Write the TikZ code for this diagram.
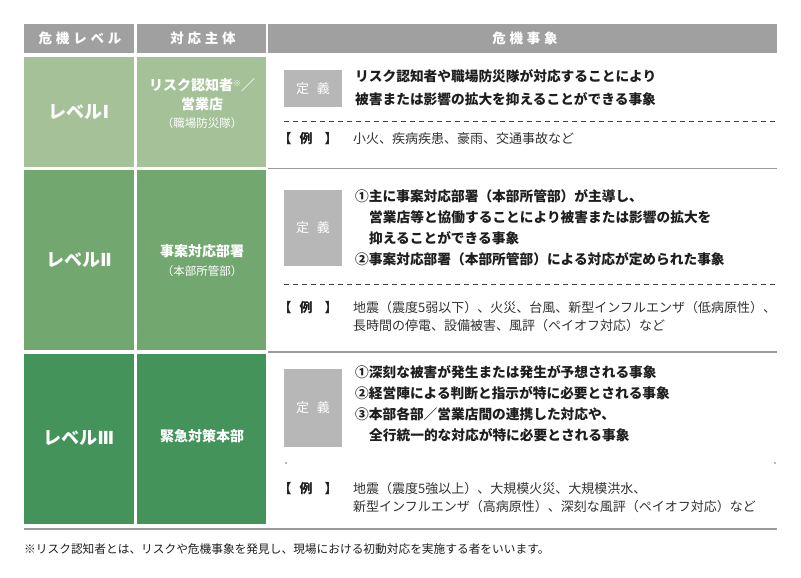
\documentclass[tikz,border=0pt]{standalone}
\usepackage{fontspec}
\setmainfont{Noto Sans CJK JP}
\newfontfamily\hdfont{Noto Sans CJK JP}[LetterSpace=28]
\newfontfamily\romfont{DejaVu Sans}
\definecolor{hdrgray}{RGB}{160,160,160}
\definecolor{lvone}{RGB}{164,193,152}
\definecolor{lvtwo}{RGB}{114,168,111}
\definecolor{lvthree}{RGB}{67,147,90}
\definecolor{defgray}{RGB}{183,183,183}
\definecolor{linegray}{RGB}{154,154,154}
\definecolor{txtdark}{RGB}{30,30,30}
\definecolor{txtex}{RGB}{50,50,50}
\newcommand{\rmn}[1]{{\romfont\bfseries #1}}
\begin{document}
\begin{tikzpicture}[x=1pt,y=-1pt,
  hdr/.style={font=\hdfont\bfseries\fontsize{13.5}{13.5}\selectfont, text=white, inner sep=0pt},
  lvl/.style={font=\bfseries\fontsize{18}{18}\selectfont, text=white, inner sep=0pt},
  org/.style={font=\bfseries\fontsize{14}{14}\selectfont, text=white, inner sep=0pt, text height=0.88em, text depth=0.12em},
  orgsub/.style={font=\fontsize{11.5}{11.5}\selectfont, text=white, inner sep=0pt, text height=0.88em, text depth=0.12em},
  defbox/.style={fill=defgray, minimum width=58pt, inner sep=0pt, text=white, font=\fontsize{13}{13}\selectfont},
  deftxt/.style={font=\bfseries\fontsize{13.7}{13.7}\selectfont, text=txtdark, inner sep=0pt, anchor=west, text height=0.88em, text depth=0.12em},
  extxt/.style={font=\fontsize{13}{13}\selectfont, text=txtex, inner sep=0pt, anchor=west, text height=0.88em, text depth=0.12em},
  brk/.style={font=\bfseries\fontsize{13}{13}\selectfont, text=txtdark, inner sep=0pt, text height=0.88em, text depth=0.12em},
  dashline/.style={draw=black!75, line width=0.8pt, dash pattern=on 5pt off 4pt},
  rowline/.style={draw=linegray, line width=1.5pt},
  note/.style={font=\fontsize{11.7}{11.7}\selectfont, text=txtdark, inner sep=0pt, anchor=west}
]
\useasboundingbox[fill=white] (0,0) rectangle (801,578);
% header
\fill[hdrgray] (24,24) rectangle (134,53);
\fill[hdrgray] (137,24) rectangle (266,53);
\fill[hdrgray] (268,24) rectangle (777,53);
\node[hdr] (h1) at (80,38.5) {危機レベル};
\node[hdr] (h2) at (203,38.5) {対応主体};
\node[hdr] (h3) at (525,38.5) {危機事象};
% rows, left columns
\fill[lvone] (24,57) rectangle (134,167);
\fill[lvone] (137,57) rectangle (266,167);
\fill[lvtwo] (24,170) rectangle (134,350);
\fill[lvtwo] (137,170) rectangle (266,350);
\fill[lvthree] (24,354) rectangle (134,524);
\fill[lvthree] (137,354) rectangle (266,524);
\node[lvl] (l1) at (79,112) {レベル\rmn{Ⅰ}};
\node[lvl] (l2) at (79,260) {レベル\rmn{Ⅱ}};
\node[lvl] (l3) at (79,438) {レベル\rmn{Ⅲ}};
\node[org] (o1a) at (202,87) {リスク認知者\raisebox{4pt}{\fontsize{8}{8}\selectfont ※}／};
\node[org] (o1b) at (202,106) {営業店};
\node[orgsub] (o1c) at (202,124) {（職場防災隊）};
\node[org] (o2a) at (202,253) {事案対応部署};
\node[orgsub] (o2b) at (202,272) {（本部所管部）};
\node[org] (o3a) at (202,438) {緊急対策本部};
% row separators (right column)
\draw[rowline] (268,168.5) -- (777,168.5);
\draw[rowline] (268,352) -- (777,352);
\draw[rowline] (24,529) -- (777,529);
% row 1
\node[defbox, minimum height=37pt] (d1) at (313,88.5) {定\hspace{0.6em}義};
\node[deftxt] (t1a) at (355,78) {リスク認知者や職場防災隊が対応することにより};
\node[deftxt] (t1b) at (355,101) {被害または影響の拡大を抑えることができる事象};
\draw[dashline] (284,121) -- (777,121);
\node[brk] (b1a) at (285,140) {【};
\node[brk] (b1b) at (306,140) {例};
\node[brk] (b1c) at (331,140) {】};
\node[extxt] (e1a) at (353,140) {小火、疾病疾患、豪雨、交通事故など};
% row 2
\node[defbox, minimum height=76pt] (d2) at (313,228) {定\hspace{0.6em}義};
\node[deftxt] (t2a) at (355,198) {①主に事案対応部署（本部所管部）が主導し、};
\node[deftxt] (t2b) at (369,219) {営業店等と協働することにより被害または影響の拡大を};
\node[deftxt] (t2c) at (369,240) {抑えることができる事象};
\node[deftxt] (t2d) at (355,261) {②事案対応部署（本部所管部）による対応が定められた事象};
\draw[dashline] (284,284) -- (777,284);
\node[brk] (b2a) at (285,309) {【};
\node[brk] (b2b) at (306,309) {例};
\node[brk] (b2c) at (331,309) {】};
\node[extxt] (e2a) at (353,309) {地震（震度5弱以下）、火災、台風、新型インフルエンザ（低病原性）、};
\node[extxt] (e2b) at (353,327) {長時間の停電、設備被害、風評（ペイオフ対応）など};
% row 3
\node[defbox, minimum height=78pt] (d3) at (313,408) {定\hspace{0.6em}義};
\node[deftxt] (t3a) at (355,374) {①深刻な被害が発生または発生が予想される事象};
\node[deftxt] (t3b) at (355,395) {②経営陣による判断と指示が特に必要とされる事象};
\node[deftxt] (t3c) at (355,416) {③本部各部／営業店間の連携した対応や、};
\node[deftxt] (t3d) at (369,437) {全行統一的な対応が特に必要とされる事象};
\fill[linegray!70] (285,462) rectangle (287,464);
\fill[linegray!70] (774,462) rectangle (776,464);
\node[brk] (b3a) at (285,490) {【};
\node[brk] (b3b) at (306,490) {例};
\node[brk] (b3c) at (331,490) {】};
\node[extxt] (e3a) at (353,490) {地震（震度5強以上）、大規模火災、大規模洪水、};
\node[extxt] (e3b) at (353,508) {新型インフルエンザ（高病原性）、深刻な風評（ペイオフ対応）など};
% footnote
\node[note] (fn) at (24,549) {※リスク認知者とは、リスクや危機事象を発見し、現場における初動対応を実施する者をいいます。};
\end{tikzpicture}
\end{document}
